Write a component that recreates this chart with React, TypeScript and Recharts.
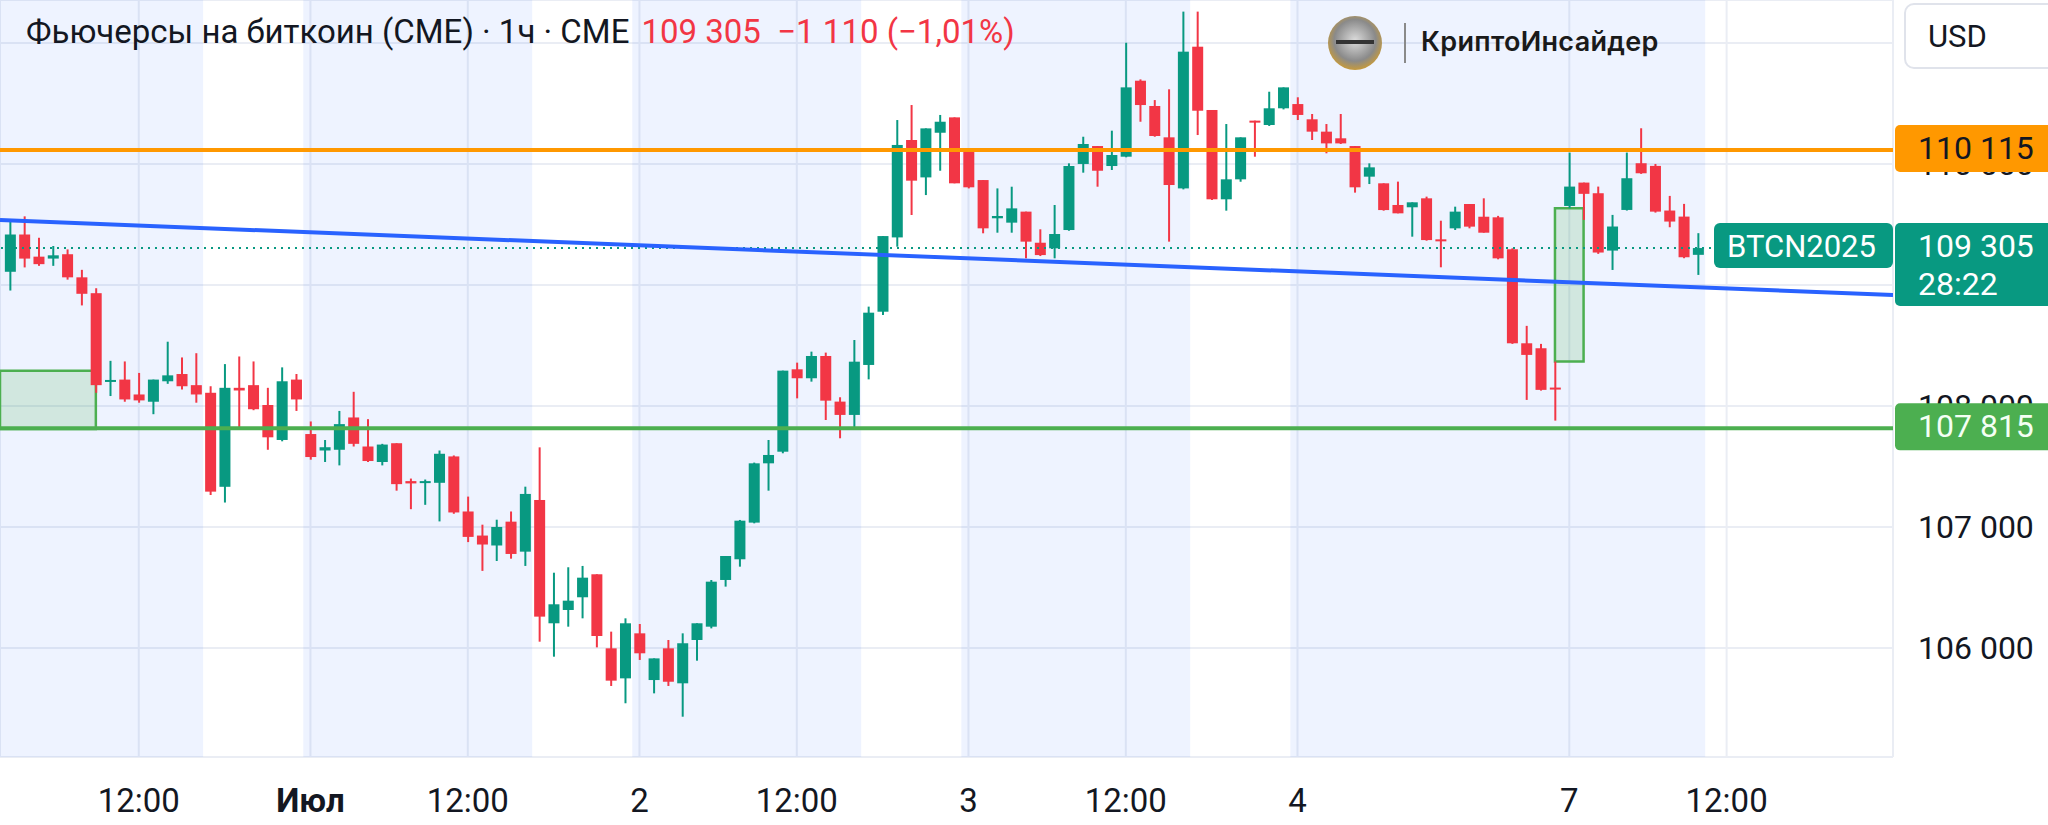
import {
  ComposedChart,
  Bar,
  XAxis,
  YAxis,
  CartesianGrid,
  ReferenceLine,
  ReferenceArea,
} from "recharts";

// hourly CME bitcoin futures candles
const OPEN = [
  109109, 109417, 109234, 109218, 109254, 109063, 108932, 108199, 108218, 108095,
  108035, 108204, 108264, 108172, 108109, 107332, 108150, 108172, 108008, 107719,
  108218, 107768, 107632, 107638, 107905, 107665, 107537, 107692, 107379, 107365,
  107365, 107583, 107128, 106929, 106847, 107044, 106796, 107223, 106204, 106314,
  106419, 106609, 105997, 105749, 106121, 105735, 105997, 105708, 106066, 106176,
  106562, 106733, 107036, 107526, 107622, 108303, 108229, 108413, 108036, 107926,
  108339, 108779, 109393, 110198, 109889, 110258, 110385, 110129, 109867, 109551,
  109515, 109606, 109349, 109303, 109454, 110000, 110148, 109983, 110060, 110688,
  110479, 110220, 109798, 110969, 110446, 109708, 109873, 110358, 110322, 110460,
  110495, 110369, 110267, 110212, 110148, 109895, 109840, 109661, 109642, 109716,
  109377, 109468, 109669, 109564, 109559, 109295, 108518, 108477, 108152, 109653,
  109846, 109758, 109284, 109620, 110006, 109984, 109615, 109565, 109249,
];
const HIGH = [
  109545, 109567, 109390, 109322, 109294, 109125, 108973, 108373, 108368, 108273,
  108218, 108531, 108401, 108436, 108163, 108346, 108409, 108368, 108150, 108319,
  108264, 107872, 107719, 107959, 108117, 107891, 107687, 107692, 107400, 107392,
  107632, 107591, 107251, 107019, 107060, 107128, 107333, 107658, 106622, 106667,
  106678, 106609, 106135, 106245, 106198, 105914, 106066, 106121, 106204, 106562,
  106760, 107058, 107532, 107719, 108292, 108358, 108449, 108441, 108072, 108545,
  108821, 109404, 110363, 110487, 110294, 110405, 110385, 110129, 109867, 109798,
  109812, 109606, 109460, 109661, 110005, 110225, 110148, 110275, 111002, 110699,
  110528, 110617, 111259, 111259, 110446, 110330, 110220, 110358, 110597, 110633,
  110551, 110413, 110330, 110413, 110148, 110005, 109840, 109854, 109683, 109730,
  109531, 109647, 109669, 109716, 109571, 109303, 108662, 108513, 108367, 110094,
  109846, 109813, 109579, 110094, 110295, 110000, 109736, 109670, 109428,
];
const LOW = [
  108954, 109145, 109158, 109158, 109044, 108831, 108109, 108082, 108035, 108027,
  107932, 108183, 108136, 108027, 107264, 107202, 107809, 107965, 107638, 107708,
  107959, 107556, 107537, 107509, 107665, 107537, 107509, 107300, 107147, 107183,
  107046, 107109, 106875, 106637, 106719, 106738, 106678, 106052, 105928, 106176,
  106245, 106005, 105686, 105543, 105901, 105625, 105686, 105432, 105895, 106162,
  106507, 106672, 107030, 107300, 107609, 108063, 108201, 107884, 107733, 107824,
  108220, 108752, 109316, 109578, 109743, 109944, 109840, 109798, 109427, 109432,
  109432, 109220, 109239, 109220, 109448, 109928, 109812, 109950, 110055, 110349,
  110225, 109358, 109790, 110239, 109702, 109614, 109853, 110060, 110314, 110451,
  110363, 110198, 110088, 110165, 109763, 109834, 109614, 109592, 109399, 109366,
  109146, 109454, 109468, 109432, 109212, 108513, 108050, 108127, 107879, 109634,
  109538, 109257, 109124, 109615, 109918, 109598, 109477, 109221, 109083,
];
const CLOSE = [
  109417, 109218, 109172, 109245, 109063, 108927, 108172, 108215, 108054, 108046,
  108218, 108253, 108163, 108095, 107292, 108150, 108128, 107973, 107741, 108204,
  108054, 107578, 107659, 107850, 107687, 107545, 107681, 107354, 107360, 107379,
  107605, 107120, 106918, 106855, 107000, 106777, 107273, 106259, 106361, 106391,
  106581, 106099, 105730, 106204, 105956, 105914, 105721, 106039, 106204, 106548,
  106760, 107052, 107526, 107595, 108292, 108229, 108413, 108044, 107926, 108366,
  108771, 109404, 110157, 109862, 110294, 110349, 109840, 109807, 109468, 109570,
  109633, 109358, 109247, 109421, 109983, 110165, 109944, 110074, 110633, 110487,
  110231, 109826, 110928, 110440, 109708, 109873, 110220, 110347, 110460, 110633,
  110405, 110267, 110170, 110170, 109807, 109972, 109619, 109592, 109683, 109371,
  109366, 109606, 109482, 109432, 109220, 108518, 108422, 108133, 108141, 109813,
  109753, 109268, 109483, 109882, 109923, 109606, 109524, 109229, 109305,
];

// x axis: bar index positions and their labels
const TIME_TICKS = [9, 21, 32, 44, 55, 67, 78, 90, 109, 120];
const TIME_LABELS = ["12:00", "Июл", "12:00", "2", "12:00", "3", "12:00", "4", "7", "12:00"];
const PRICE_TICKS = [106000, 107000, 108000, 109000, 110000, 111000];

const X_DOMAIN = [-0.7, 131.63];
const Y_DOMAIN = [105099, 111355];

// session shading (bar index ranges)
const SESSIONS = [
  [-0.7, 13.5],
  [20.5, 36.5],
  [43.5, 59.5],
  [66.5, 82.5],
  [89.5, 118.5],
];

// gap boxes: [from bar, to bar, low, high]
const GAPS = [
  [-0.7, 6, 107809, 108292],
  [108, 110, 108367, 109634],
];

const RESISTANCE = 110115;
const SUPPORT = 107815;
const LAST_PRICE = 109305;
const TREND = [
  { x: -0.7, y: 109537 },
  { x: 131.63, y: 108917 },
];

const GREEN = "#089981";
const RED = "#f23645";
const TEXT = "#131722";
const FONT = "Roboto, 'Noto Sans', sans-serif";

const candles = OPEN.map((o, i) => ({
  i,
  o,
  h: HIGH[i],
  l: LOW[i],
  c: CLOSE[i],
  range: [LOW[i], HIGH[i]],
}));

const fmt = (v: number) => {
  const s = String(Math.round(v));
  return s.slice(0, s.length - 3) + " " + s.slice(-3);
};

const Candle = (props: any) => {
  const { x, y, width, height, payload } = props;
  if (!payload || height == null) return null;
  const { o, c, h, l } = payload;
  const color = c >= o ? GREEN : RED;
  const k = height / (h - l);
  const top = y + (h - Math.max(o, c)) * k;
  const bh = Math.max(2, Math.abs(o - c) * k);
  const cx = x + width / 2;
  return (
    <g>
      <line x1={cx} x2={cx} y1={y} y2={y + height} stroke={color} strokeWidth={2} />
      <rect x={x} y={top} width={width} height={bh} fill={color} />
    </g>
  );
};

const TimeTick = (props: any) => {
  const { x, y, payload } = props;
  const idx = TIME_TICKS.indexOf(payload.value);
  const label = TIME_LABELS[idx] ?? "";
  return (
    <text
      x={x}
      y={y + 43}
      textAnchor="middle"
      dominantBaseline="central"
      fill={TEXT}
      fontFamily={FONT}
      fontSize={33}
      fontWeight={label === "Июл" ? 700 : 400}
    >
      {label}
    </text>
  );
};

const PriceTick = (props: any) => {
  const { x, y, payload } = props;
  return (
    <text
      x={x + 25}
      y={y}
      textAnchor="start"
      dominantBaseline="central"
      fill={TEXT}
      fontFamily={FONT}
      fontSize={32}
    >
      {fmt(payload.value)}
    </text>
  );
};

const makeTag =
  (bg: string, fg: string, text: string, sub?: string, name?: string) =>
  (props: any) => {
    const vb = props.viewBox;
    if (!vb) return null;
    const right = vb.x + vb.width;
    const ly = vb.y;
    const h = sub ? 83 : 47;
    const top = ly - 25;
    return (
      <g>
        {name && (
          <g>
            <rect x={right - 179} y={ly - 25} width={179} height={45} rx={6} fill={bg} />
            <text
              x={right - 166}
              y={ly - 2}
              dominantBaseline="central"
              fill="#ffffff"
              fontFamily={FONT}
              fontSize={31}
            >
              {name}
            </text>
          </g>
        )}
        <rect x={right + 2} y={top} width={170} height={h} rx={5} fill={bg} />
        <text
          x={right + 25}
          y={top + 23}
          dominantBaseline="central"
          fill={fg}
          fontFamily={FONT}
          fontSize={32}
        >
          {text}
        </text>
        {sub && (
          <text
            x={right + 25}
            y={top + 61}
            dominantBaseline="central"
            fill={fg}
            fontFamily={FONT}
            fontSize={32}
          >
            {sub}
          </text>
        )}
      </g>
    );
  };

const layer: React.CSSProperties = { position: "absolute", left: 0, top: 0 };

export default function App() {
  return (
    <div
      style={{
        position: "fixed",
        left: 0,
        top: 0,
        width: 2048,
        height: 825,
        background: "#ffffff",
        overflow: "hidden",
        fontFamily: FONT,
      }}
    >
      {/* base layer: sessions, grid, axes, gap boxes, candles */}
      <div style={layer}>
        <ComposedChart
          width={2048}
          height={825}
          data={candles}
          margin={{ top: 0, right: 0, bottom: 0, left: 0 }}
        >
          {SESSIONS.map(([a, b], k) => (
            <ReferenceArea
              key={"s" + k}
              x1={a}
              x2={b}
              y1={Y_DOMAIN[0]}
              y2={Y_DOMAIN[1]}
              fill="#2962ff"
              fillOpacity={0.08}
              stroke="none"
              ifOverflow="hidden"
            />
          ))}
          <CartesianGrid stroke="#eaedf4" strokeWidth={2} />
          <XAxis
            dataKey="i"
            type="number"
            domain={X_DOMAIN}
            allowDataOverflow
            ticks={TIME_TICKS}
            interval={0}
            height={68}
            axisLine={false}
            tickLine={false}
            tickSize={0}
            tickMargin={0}
            tick={<TimeTick />}
          />
          <YAxis
            orientation="right"
            type="number"
            domain={Y_DOMAIN}
            allowDataOverflow
            ticks={PRICE_TICKS}
            width={155}
            axisLine={false}
            tickLine={false}
            tickSize={0}
            tickMargin={0}
            tick={<PriceTick />}
          />
          {GAPS.map(([a, b, lo, hi], k) => (
            <ReferenceArea
              key={"g" + k}
              x1={a}
              x2={b}
              y1={lo}
              y2={hi}
              fill="#4caf50"
              fillOpacity={0.18}
              stroke="#4caf50"
              strokeWidth={2.5}
              ifOverflow="hidden"
            />
          ))}
          <Bar
            dataKey="range"
            barSize={11}
            shape={<Candle />}
            isAnimationActive={false}
          />
        </ComposedChart>
      </div>

      {/* overlay layer: drawn lines and price tags above the axis labels */}
      <div style={layer}>
        <ComposedChart
          width={2048}
          height={825}
          data={candles}
          margin={{ top: 0, right: 0, bottom: 0, left: 0 }}
        >
          <XAxis
            dataKey="i"
            type="number"
            domain={X_DOMAIN}
            allowDataOverflow
            height={68}
            axisLine={false}
            tickLine={false}
            tick={false}
          />
          <YAxis
            orientation="right"
            type="number"
            domain={Y_DOMAIN}
            allowDataOverflow
            width={155}
            axisLine={false}
            tickLine={false}
            tick={false}
          />
          <ReferenceLine
            y={LAST_PRICE}
            stroke={GREEN}
            strokeWidth={2}
            strokeDasharray="2 5"
            label={makeTag(GREEN, "#ffffff", fmt(LAST_PRICE), "28:22", "BTCN2025")}
          />
          <ReferenceLine
            segment={TREND}
            stroke="#2962ff"
            strokeWidth={4}
            ifOverflow="hidden"
          />
          <ReferenceLine
            y={RESISTANCE}
            stroke="#ff9800"
            strokeWidth={4}
            label={makeTag("#ff9800", TEXT, fmt(RESISTANCE))}
          />
          <ReferenceLine
            y={SUPPORT}
            stroke="#4caf50"
            strokeWidth={4}
            label={makeTag("#4caf50", "#f4fff4", fmt(SUPPORT))}
          />
        </ComposedChart>
      </div>

      {/* header */}
      <div
        style={{
          position: "absolute",
          left: 26,
          top: 15,
          fontSize: 33,
          lineHeight: 1,
          color: TEXT,
          whiteSpace: "pre",
        }}
      >
        Фьючерсы на биткоин (CME) · 1ч · CME
        <span style={{ color: RED, marginLeft: 12 }}>
          109 305{"  "}−1 110 (−1,01%)
        </span>
      </div>

      {/* watermark */}
      <svg
        style={{ position: "absolute", left: 1320, top: 10 }}
        width={90}
        height={70}
      >
        <defs>
          <radialGradient id="face" cx="50%" cy="45%" r="55%">
            <stop offset="0%" stopColor="#dcdcdc" />
            <stop offset="70%" stopColor="#8a8a8a" />
            <stop offset="100%" stopColor="#c69a3c" />
          </radialGradient>
        </defs>
        <circle cx={35} cy={33} r={27} fill="url(#face)" />
        <rect x={16} y={30} width={38} height={4} fill="#333" />
        <line x1={85} x2={85} y1={13} y2={53} stroke="#8a8a8a" strokeWidth={2} />
      </svg>
      <div
        style={{
          position: "absolute",
          left: 1421,
          top: 28,
          fontFamily: "Inter, sans-serif",
          fontWeight: 600,
          fontSize: 27,
          lineHeight: 1,
          color: "#1a1a1a",
          letterSpacing: 0.3,
        }}
      >
        КриптоИнсайдер
      </div>

      {/* currency button */}
      <div
        style={{
          position: "absolute",
          left: 1904,
          top: 3,
          width: 160,
          height: 66,
          border: "2px solid #e0e3eb",
          borderRadius: 10,
          background: "#ffffff",
          boxSizing: "border-box",
        }}
      >
        <div
          style={{
            position: "absolute",
            left: 22,
            top: 16,
            fontSize: 31,
            lineHeight: 1,
            color: TEXT,
          }}
        >
          USD
        </div>
      </div>
    </div>
  );
}
